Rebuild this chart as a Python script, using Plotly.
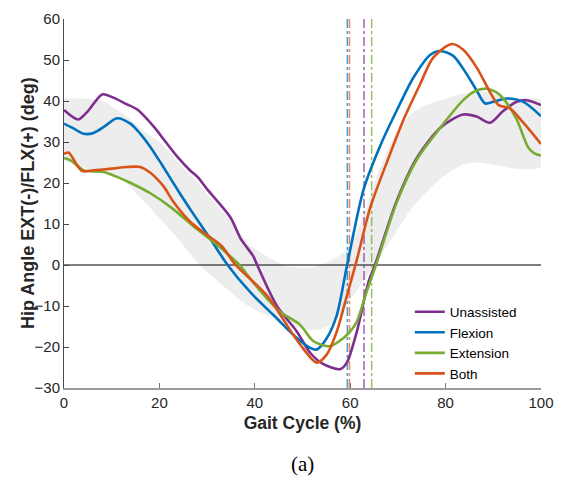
import plotly.graph_objects as go

# ---------------- data ----------------
unassisted_x = [0, 3, 5, 8, 10, 13, 15.5, 19, 21, 23.7, 26.5, 28, 30, 34.9, 37, 39.7, 40.5, 44.6, 48.8,
                51.6, 54.4, 57.9, 59.3, 61.4, 63.8, 65.2, 69.8, 74, 78.9, 83.7, 86.5, 89.3, 92, 94.9, 97, 100]
unassisted_y = [37.8, 35.5, 37.5, 41.6, 41.0, 39.3, 37.8, 33.5, 30.5, 26.5, 23.0, 21.5, 18.5, 11.6, 6.5, 2.1, 0,
                -9.9, -16.2, -21.4, -24.2, -25.4, -23.8, -16.2, -4.3, 0, 15.8, 26.2, 33.5, 36.7, 36.2, 34.7,
                37.5, 39.8, 40.2, 39.0]

flexion_x = [0, 2, 4.1, 6.2, 8.5, 11.1, 13.9, 16, 18.1, 20.5, 24, 27.5, 31, 34.3, 39.1, 43.9, 48.8, 51.6, 53,
             55.1, 57.2, 59.3, 62.8, 66.3, 69.8, 73.3, 76.8, 78.9, 81.6, 84.4, 86.5, 88.3, 90, 92.8, 96.3, 100]
flexion_y = [34.5, 33.3, 32.0, 32.2, 33.8, 35.8, 34.5, 32.0, 28.8, 24.5, 18.0, 11.8, 5.8, 0, -6.7, -12.2, -17.8,
             -20.2, -20.6, -17.8, -12.2, -0.3, 18.4, 29.1, 37.8, 45.8, 51.3, 52.2, 51.0, 46.6, 42.6, 39.4, 39.8,
             40.6, 39.8, 36.3]

extension_x = [0, 1.4, 4.1, 8.3, 11.1, 14, 18.1, 22.5, 27.2, 31.8, 34.5, 36.8, 39.7, 45.3, 49.5, 52.3, 55.8,
               58.6, 60, 61.4, 63.5, 65.4, 69.8, 74, 78.9, 83.7, 86, 88.6, 90.5, 92.1, 94.9, 97.3, 98.5, 100]
extension_y = [26.1, 25.5, 23.1, 22.7, 21.5, 20.0, 17.5, 14.0, 9.4, 5.2, 2.5, 0, -4.3, -11.4, -14.6, -18.6,
               -19.8, -17.8, -16.2, -13.8, -6.3, 0, 15.4, 25.8, 33.5, 40.2, 42.3, 43.0, 42.2, 40.6, 35.5, 28.7,
               27.3, 26.7]

both_x = [0, 1, 2.5, 3.8, 6.2, 10, 13.2, 16, 18.1, 19.5, 21, 23, 26.5, 30, 33, 36, 42.6, 46.7, 49.5, 53, 55.1,
          57.2, 59.3, 61.4, 64.2, 67.7, 71.2, 74.7, 77.4, 81.3, 83.7, 86.5, 89.3, 91.1, 93.5, 96.3, 100]
both_y = [27.1, 27.4, 24.8, 22.9, 23.1, 23.5, 23.9, 23.9, 22.5, 21.0, 19.0, 15.3, 10.5, 7.3, 4.7, 0, -7.5,
          -14.6, -19.4, -23.8, -21.8, -16.2, -7.5, 1.3, 14.0, 25.1, 35.5, 44.2, 50.6, 53.9, 52.5, 48.2, 42.2,
          39.0, 38.2, 34.7, 29.5]

band_upper_x = [0, 4, 8, 11, 13.9, 17, 20.9, 24, 27.9, 31, 34.9, 39, 42, 46, 50, 53, 56, 58, 60, 62.8, 66,
                69.8, 73, 76.8, 80, 83.7, 88.6, 92, 96, 100]
band_upper_y = [40.6, 40.6, 40.0, 38.0, 35.5, 32.5, 29.1, 25.0, 20.3, 16.0, 11.0, 4.8, 2.5, 0, -0.7, -0.3, 1.2,
                2.5, 5.0, 12.0, 23.0, 32.5, 37.0, 39.4, 40.5, 41.8, 42.2, 41.0, 40.5, 40.2]
band_lower_x = [0, 5, 8, 11.1, 16, 23, 28.6, 34.2, 38, 42, 46, 49.5, 53, 56, 58, 60, 62.1, 64.9, 69.8, 73,
                76.8, 80, 83.7, 87, 90.7, 94.9, 100]
band_lower_y = [25.5, 23.5, 23.0, 21.9, 16.4, 7.6, -0.2, -5.9, -9.5, -12.0, -14.0, -15.4, -15.8, -14.5, -12.0,
                -8.5, -5.1, -0.3, 8.4, 14.0, 18.8, 22.0, 24.5, 25.0, 24.3, 23.5, 24.0]

series_names = ["Unassisted", "Flexion", "Extension", "Both"]
series_colors = ["#7E2F8E", "#0072BD", "#77AC30", "#D95319"]
toe_off_colors = ["rgba(126,47,142,0.75)", "rgba(0,114,189,0.7)", "rgba(119,172,48,0.75)", "rgba(217,83,25,0.7)"]
toe_off = [62.9, 59.4, 64.5, 59.85]

xs = [unassisted_x, flexion_x, extension_x, both_x]
ys = [unassisted_y, flexion_y, extension_y, both_y]

x_ticks = [0, 20, 40, 60, 80, 100]
y_ticks = [-30, -20, -10, 0, 10, 20, 30, 40, 50, 60]

# ---------------- figure ----------------
fig = go.Figure()

fig.add_trace(go.Scatter(
    x=band_upper_x + band_lower_x[::-1],
    y=band_upper_y + band_lower_y[::-1],
    fill="toself", fillcolor="#EDEDED", line=dict(width=0, shape="spline", smoothing=0.8),
    mode="lines", showlegend=False, hoverinfo="skip"))

fig.add_trace(go.Scatter(x=[0, 100], y=[0, 0], mode="lines",
                         line=dict(color="black", width=1), showlegend=False, hoverinfo="skip"))

for t, c in zip(toe_off, toe_off_colors):
    fig.add_trace(go.Scatter(x=[t, t], y=[-30, 60], mode="lines",
                             line=dict(color=c, width=1.5, dash="dashdot"),
                             showlegend=False, hoverinfo="skip"))

for name, c, x, y in zip(series_names, series_colors, xs, ys):
    fig.add_trace(go.Scatter(x=x, y=y, mode="lines", name=name,
                             line=dict(color=c, width=2.6, shape="spline", smoothing=0.8)))

font_family = "Arial, Liberation Sans, sans-serif"
fig.update_layout(
    width=564, height=482,
    margin=dict(l=63.5, r=22.5, t=10, b=94),
    paper_bgcolor="white", plot_bgcolor="white",
    font=dict(family=font_family, size=15, color="#262626"),
    showlegend=True,
    legend=dict(x=0.725, y=0.248, xanchor="left", yanchor="top",
                bgcolor="rgba(0,0,0,0)", font=dict(size=13.5, color="#000"),
                tracegroupgap=0, itemwidth=30),
    xaxis=dict(range=[0, 100], tickvals=x_ticks, ticks="inside", ticklen=5, tickcolor="#777",
               showline=True, linecolor="#9a9a9a", linewidth=2, showgrid=False, zeroline=False,
               tickfont=dict(size=15, color="#262626"),
               title=dict(text="<b>Gait Cycle (%)</b>", font=dict(size=17.5, color="#262626"), standoff=7)),
    yaxis=dict(range=[-30, 60], tickvals=y_ticks, ticks="inside", ticklen=5, tickcolor="#444",
               showline=True, linecolor="#4a4a4a", linewidth=1, showgrid=False, zeroline=False,
               tickfont=dict(size=15, color="#262626")),
    annotations=[
        dict(text="<b>Hip Angle EXT(-)/FLX(+) (deg)</b>", xref="paper", yref="paper",
             x=-0.0764, y=0.5, xanchor="center", yanchor="middle", textangle=-90, showarrow=False,
             font=dict(family=font_family, size=18, color="#262626")),
        dict(text="(a)", xref="paper", yref="paper", x=0.5, y=-0.206,
             xanchor="center", yanchor="middle", showarrow=False,
             font=dict(family="Liberation Serif, Times New Roman, serif", size=21, color="#000"))],
)

fig.write_html("out.html")
